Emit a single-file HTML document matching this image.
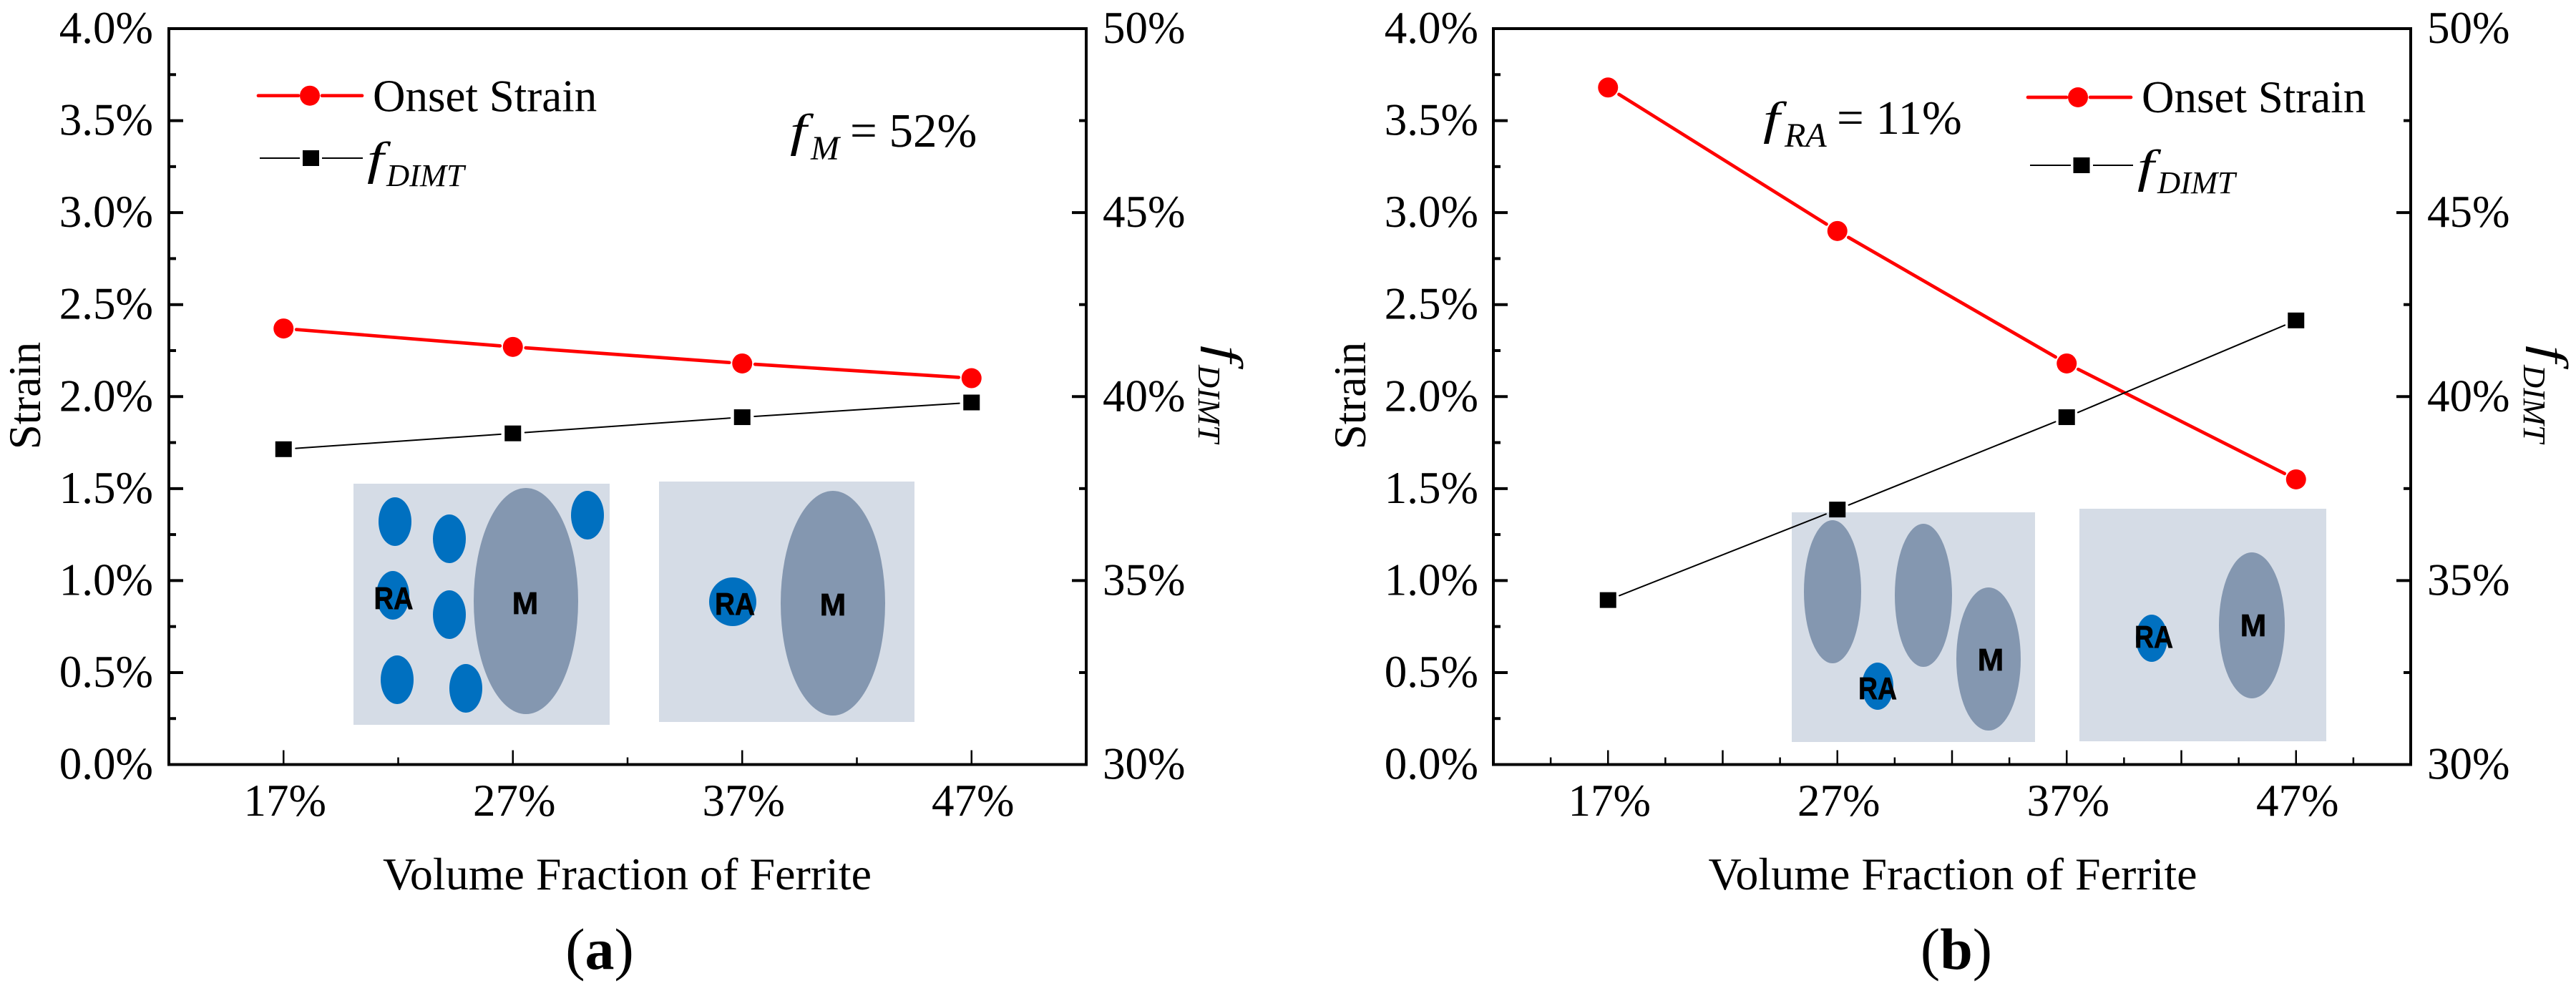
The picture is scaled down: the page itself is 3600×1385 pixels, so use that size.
<!DOCTYPE html>
<html lang="en">
<head>
<meta charset="utf-8">
<title>Onset Strain and fDIMT versus Volume Fraction of Ferrite</title>
<style>
  html, body { margin: 0; padding: 0; background: #ffffff; }
  svg { display: block; }
  text { font-family: "Liberation Serif", serif; fill: #000; }
  .t { font-size: 63px; }
  .x { font-size: 64px; }
  .v { font-size: 67px; }
  .i { font-size: 65px; font-style: italic; }
  .s { font-size: 44.5px; font-style: italic; }
  .sb { font-size: 48px; font-style: italic; }
  .m { font-family: "Liberation Sans", sans-serif; font-size: 44px; font-weight: bold; text-anchor: middle; stroke: #000; stroke-width: 0.7px; }
  .bg { fill: #d5dce6; }
  .gr { fill: #8497b0; }
  .bl { fill: #0070c0; }
</style>
</head>
<body>
<svg id="chart" xmlns="http://www.w3.org/2000/svg" width="3600" height="1385" viewBox="0 0 3600 1385">
  <rect x="0" y="0" width="3600" height="1385" fill="#ffffff"/>

  <g>
    <g>
      <rect class="bg" x="494" y="676" width="358" height="337"/>
      <ellipse class="gr" cx="735" cy="840" rx="73" ry="158"/>
      <ellipse class="bl" cx="552" cy="729" rx="23" ry="34"/>
      <ellipse class="bl" cx="628" cy="753" rx="23" ry="34"/>
      <ellipse class="bl" cx="821" cy="720" rx="23" ry="34"/>
      <ellipse class="bl" cx="549" cy="832" rx="23" ry="34"/>
      <ellipse class="bl" cx="628" cy="859" rx="23" ry="34"/>
      <ellipse class="bl" cx="555" cy="950" rx="23" ry="34"/>
      <ellipse class="bl" cx="651" cy="962" rx="23" ry="34"/>
      <text class="m" x="550" y="851" textLength="55" lengthAdjust="spacingAndGlyphs">RA</text>
      <text class="m" x="734" y="858">M</text>
    </g>
    <g>
      <rect class="bg" x="921" y="673" width="357" height="336"/>
      <ellipse class="gr" cx="1164" cy="843" rx="73" ry="157"/>
      <ellipse class="bl" cx="1024" cy="841" rx="33" ry="34"/>
      <text class="m" x="1027" y="859" textLength="56" lengthAdjust="spacingAndGlyphs">RA</text>
      <text class="m" x="1164" y="860">M</text>
    </g>
  </g>

  <g>
    <g>
      <rect class="bg" x="2504" y="716" width="340" height="321"/>
      <ellipse class="gr" cx="2561" cy="827" rx="40" ry="100"/>
      <ellipse class="gr" cx="2688" cy="832" rx="40" ry="100"/>
      <ellipse class="gr" cx="2779" cy="921" rx="45" ry="100"/>
      <ellipse class="bl" cx="2624" cy="959" rx="22" ry="33"/>
      <text class="m" x="2624" y="977" textLength="54" lengthAdjust="spacingAndGlyphs">RA</text>
      <text class="m" x="2782" y="937">M</text>
    </g>
    <g>
      <rect class="bg" x="2906" y="711" width="345" height="325"/>
      <ellipse class="gr" cx="3147" cy="874" rx="46" ry="102"/>
      <ellipse class="bl" cx="3007" cy="892" rx="22" ry="33"/>
      <text class="m" x="3010" y="905" textLength="54" lengthAdjust="spacingAndGlyphs">RA</text>
      <text class="m" x="3149" y="889">M</text>
    </g>
  </g>

  <g id="plots"></g>

  <g>
    <line x1="361" y1="133.7" x2="417" y2="133.7" stroke="#ff0000" stroke-width="4.7" stroke-linecap="round"/>
    <line x1="450" y1="133.7" x2="506" y2="133.7" stroke="#ff0000" stroke-width="4.7" stroke-linecap="round"/>
    <circle cx="433" cy="133.7" r="14" fill="#ff0000"/>
    <text class="t" x="521" y="155.5">Onset Strain</text>
    <line x1="363" y1="221" x2="419" y2="221" stroke="#000" stroke-width="2"/>
    <line x1="450" y1="221" x2="507" y2="221" stroke="#000" stroke-width="2"/>
    <rect x="423" y="210" width="23" height="22" fill="#000"/>
    <text class="i" transform="translate(513,243) scale(1.3,1)">f</text>
    <text class="s" x="540" y="260">DIMT</text>
  </g>
  <g>
    <text class="i" transform="translate(1104,204) scale(1.3,1)">f</text>
    <text class="sb" x="1133" y="223">M</text>
    <text class="v" x="1188" y="205">= 52%</text>
  </g>

  <g>
    <line x1="2834" y1="136" x2="2888" y2="136" stroke="#ff0000" stroke-width="4.7" stroke-linecap="round"/>
    <line x1="2921" y1="136" x2="2978" y2="136" stroke="#ff0000" stroke-width="4.7" stroke-linecap="round"/>
    <circle cx="2904" cy="136" r="14" fill="#ff0000"/>
    <text class="t" x="2993" y="157">Onset Strain</text>
    <line x1="2837" y1="231" x2="2894" y2="231" stroke="#000" stroke-width="2"/>
    <line x1="2925" y1="231" x2="2981" y2="231" stroke="#000" stroke-width="2"/>
    <rect x="2897.5" y="220" width="23" height="22" fill="#000"/>
    <text class="i" transform="translate(2987,254) scale(1.3,1)">f</text>
    <text class="s" x="3015" y="270">DIMT</text>
  </g>
  <g>
    <text class="i" transform="translate(2464,187) scale(1.3,1)">f</text>
    <text class="sb" x="2494" y="205">RA</text>
    <text class="v" x="2567" y="187">= 11%</text>
  </g>

  <g>
    <text class="t" transform="translate(56,553) rotate(-90)" text-anchor="middle">Strain</text>
    <text class="i" transform="translate(1692,483) rotate(90) scale(1.3,1)">f</text>
    <text class="s" transform="translate(1675,510) rotate(90)">DIMT</text>
    <text class="x" x="876.5" y="1243" text-anchor="middle">Volume Fraction of Ferrite</text>
    <text x="838" y="1354" text-anchor="middle" font-size="82">(<tspan font-weight="bold">a</tspan>)</text>
  </g>
  <g>
    <text class="t" transform="translate(1908,553) rotate(-90)" text-anchor="middle">Strain</text>
    <text class="i" transform="translate(3544,483) rotate(90) scale(1.3,1)">f</text>
    <text class="s" transform="translate(3527,510) rotate(90)">DIMT</text>
    <text class="x" x="2729" y="1243" text-anchor="middle">Volume Fraction of Ferrite</text>
    <text x="2734" y="1354" text-anchor="middle" font-size="82">(<tspan font-weight="bold">b</tspan>)</text>
  </g>
</svg>

<script>
const categories = ['17%', '27%', '37%', '47%'];
const strainTicks = [0, 0.5, 1, 1.5, 2, 2.5, 3, 3.5, 4];
const strainTickLabels = ['0.0%', '0.5%', '1.0%', '1.5%', '2.0%', '2.5%', '3.0%', '3.5%', '4.0%'];
const fractionTicks = [30, 35, 40, 45, 50];
const fractionTickLabels = ['30%', '35%', '40%', '45%', '50%'];
const panelAOnset = [2.37, 2.27, 2.18, 2.10];
const panelAFdimt = [38.57, 39.0, 39.44, 39.84];
const panelBOnset = [3.68, 2.90, 2.18, 1.55];
const panelBFdimt = [34.47, 36.93, 39.44, 42.07];

const SVGNS = 'http://www.w3.org/2000/svg';
const TOP = 40, BOTTOM = 1068.5;
const STRAIN_MAX = 4, FRAC_MIN = 30, FRAC_MAX = 50;
const plots = document.getElementById('plots');

function make(tag, attrs, parent, txt) {
  const node = document.createElementNS(SVGNS, tag);
  for (const k in attrs) node.setAttribute(k, attrs[k]);
  if (txt !== undefined) node.textContent = txt;
  parent.appendChild(node);
  return node;
}
function yStrain(v) { return BOTTOM - (v / STRAIN_MAX) * (BOTTOM - TOP); }
function yFrac(v) { return BOTTOM - ((v - FRAC_MIN) / (FRAC_MAX - FRAC_MIN)) * (BOTTOM - TOP); }

function tick(parent, x1, y1, x2, y2, w, name) {
  const t = make('line', { x1: x1, y1: y1, x2: x2, y2: y2, stroke: '#000', 'stroke-width': w }, parent);
  
  
}

function drawSegments(parent, pts, gap, color, width, name) {
  for (let i = 0; i < pts.length - 1; i++) {
    const a = pts[i], b = pts[i + 1];
    const dx = b.x - a.x, dy = b.y - a.y, d = Math.hypot(dx, dy);
    const ux = dx / d, uy = dy / d;
    const s = make('line', {
      x1: a.x + ux * gap, y1: a.y + uy * gap,
      x2: b.x - ux * gap, y2: b.y - uy * gap,
      stroke: color, 'stroke-width': width, 'stroke-linecap': 'round'
    }, parent);
    
    
  }
}

function drawPanel(id, left, right, leftLabelX, rightLabelX, onset, fdimt, denseTicks) {
  const g = make('g', {}, plots);
  
  
  const band = (right - left) / categories.length;
  const xCat = function (i) { return left + (i + 0.5) * band; };

  const frame = make('rect', { x: left, y: TOP, width: right - left, height: BOTTOM - TOP, fill: 'none', stroke: '#000', 'stroke-width': 4 }, g);
  
  

  strainTicks.forEach(function (v, i) {
    const y = yStrain(v);
    if (v > 0 && v < STRAIN_MAX) tick(g, left, y, left + 20, y, 4, 'left-major-tick');
    if (v < STRAIN_MAX) tick(g, left, yStrain(v + 0.25), left + 10, yStrain(v + 0.25), 4, 'left-minor-tick');
    const lab = make('text', { class: 't', x: leftLabelX, y: y + 20, 'text-anchor': 'end' }, g, strainTickLabels[i]);
    
    
  });

  fractionTicks.forEach(function (v, i) {
    const y = yFrac(v);
    if (v > FRAC_MIN && v < FRAC_MAX) tick(g, right, y, right - 20, y, 4, 'right-major-tick');
    if (v < FRAC_MAX) tick(g, right, yFrac(v + 2.5), right - 10, yFrac(v + 2.5), 4, 'right-minor-tick');
    const lab = make('text', { class: 't', x: rightLabelX, y: y + 20 }, g, fractionTickLabels[i]);
    
    
  });

  categories.forEach(function (c, i) {
    const x = xCat(i);
    tick(g, x, BOTTOM, x, BOTTOM - 20, 2.5, 'x-major-tick');
    const lab = make('text', { class: 't', x: x + 2, y: 1140, 'text-anchor': 'middle' }, g, c);
    
    
    if (denseTicks) {
      tick(g, x - band / 4, BOTTOM, x - band / 4, BOTTOM - 10, 2.5, 'x-minor-tick');
      tick(g, x + band / 4, BOTTOM, x + band / 4, BOTTOM - 10, 2.5, 'x-minor-tick');
      if (i < categories.length - 1) tick(g, x + band / 2, BOTTOM, x + band / 2, BOTTOM - 20, 2.5, 'x-major-tick');
    } else if (i < categories.length - 1) {
      tick(g, x + band / 2, BOTTOM, x + band / 2, BOTTOM - 10, 2.5, 'x-minor-tick');
    }
  });

  const onsetPts = onset.map(function (v, i) { return { x: xCat(i), y: yStrain(v) }; });
  const fdimtPts = fdimt.map(function (v, i) { return { x: xCat(i), y: yFrac(v) }; });

  drawSegments(g, onsetPts, 18, '#ff0000', 4.7, 'onset-strain-line');
  drawSegments(g, fdimtPts, 17, '#000000', 2, 'fdimt-line');

  onsetPts.forEach(function (p) {
    const m = make('circle', { cx: p.x, cy: p.y, r: 14, fill: '#ff0000' }, g);
    
    
  });
  fdimtPts.forEach(function (p) {
    const m = make('rect', { x: p.x - 11.5, y: p.y - 11, width: 23, height: 22, fill: '#000000' }, g);
    
    
  });
}

drawPanel('panel-a-plot', 236, 1518, 214, 1541, panelAOnset, panelAFdimt, false);
drawPanel('panel-b-plot', 2087, 3369, 2066, 3392, panelBOnset, panelBFdimt, true);
</script>
</body>
</html>
